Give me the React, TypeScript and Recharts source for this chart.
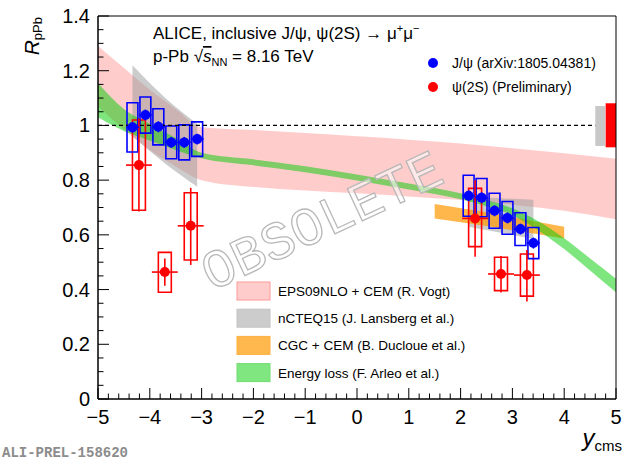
import React from "react";
import {
  ComposedChart,
  Area,
  Scatter,
  ErrorBar,
  XAxis,
  YAxis,
  ReferenceArea,
  ReferenceLine,
} from "recharts";

// model bands
const pinkX = [-5, -4.5, -4, -3.5, -3, -2, -1, 0, 1, 2, 3, 4, 5];
const pinkHi = [1.29, 1.21, 1.13, 1.06, 0.993, 0.983, 0.972, 0.96, 0.948, 0.934, 0.917, 0.898, 0.878];
const pinkLo = [1.07, 0.985, 0.91, 0.85, 0.8, 0.775, 0.762, 0.752, 0.74, 0.727, 0.71, 0.688, 0.657];

const greyBackX = [-4.335, -3.7, -3.085];
const greyBackHi = [1.22, 1.1, 1.005];
const greyBackLo = [0.96, 0.86, 0.776];
const greyFwdX = [2.155, 3.405];
const greyFwdHi = [0.74, 0.728];
const greyFwdLo = [0.63, 0.585];

const orangeX = [1.5, 2.5, 3.5, 4.0];
const orangeHi = [0.713, 0.683, 0.647, 0.63];
const orangeLo = [0.66, 0.632, 0.602, 0.587];

const greenX = [-5, -4.5, -4, -3.5, -3, -2, -1, 0, 1, 2, 2.5, 3, 3.5, 4, 4.5, 5];
const greenHi = [1.155, 1.06, 1.005, 0.954, 0.9, 0.876, 0.851, 0.821, 0.788, 0.752, 0.727, 0.697, 0.65, 0.588, 0.514, 0.44];
const greenLo = [1.03, 0.98, 0.945, 0.91, 0.88, 0.854, 0.829, 0.799, 0.766, 0.73, 0.705, 0.672, 0.616, 0.548, 0.47, 0.39];

// J/psi points
const jpsiX = [-4.335, -4.085, -3.835, -3.585, -3.335, -3.085, 2.155, 2.405, 2.655, 2.905, 3.155, 3.405];
const jpsiR = [0.993, 1.038, 0.995, 0.938, 0.938, 0.95, 0.743, 0.736, 0.688, 0.662, 0.621, 0.57];
const jpsiStat = [0.02, 0.02, 0.02, 0.02, 0.02, 0.02, 0.02, 0.02, 0.02, 0.02, 0.02, 0.02];
const jpsiSys = [0.09, 0.066, 0.066, 0.06, 0.064, 0.063, 0.075, 0.07, 0.064, 0.06, 0.06, 0.057];

// psi(2S) points
const psiX = [-4.21, -3.71, -3.21, 2.28, 2.78, 3.28];
const psiR = [0.855, 0.464, 0.633, 0.66, 0.457, 0.453];
const psiStatLo = [0.17, 0.05, 0.143, 0.14, 0.068, 0.097];
const psiStatHi = [0.17, 0.05, 0.139, 0.14, 0.066, 0.092];
const psiSysLo = [0.165, 0.074, 0.125, 0.103, 0.061, 0.077];
const psiSysHi = [0.165, 0.072, 0.121, 0.11, 0.061, 0.077];

const xMajor = [-5, -4, -3, -2, -1, 0, 1, 2, 3, 4, 5];
const yMajor = [0, 0.2, 0.4, 0.6, 0.8, 1, 1.2, 1.4];

const band = (xs: number[], lo: number[], hi: number[]) =>
  xs.map((x, i) => ({ x, r: [lo[i], hi[i]] }));

const pinkData = band(pinkX, pinkLo, pinkHi);
const greyBackData = band(greyBackX, greyBackLo, greyBackHi);
const greyFwdData = band(greyFwdX, greyFwdLo, greyFwdHi);
const orangeData = band(orangeX, orangeLo, orangeHi);
const greenData = band(greenX, greenLo, greenHi);

const jpsiData = jpsiX.map((x, i) => ({ x, r: jpsiR[i], ex: 0.125, ey: jpsiStat[i] }));
const psiData = psiX.map((x, i) => ({ x, r: psiR[i], ex: 0.25, ey: [psiStatLo[i], psiStatHi[i]] }));

// minor ticks: 0.2 on x, 0.05 on y
const xTicks: number[] = [];
for (let i = 0; i <= 50; i++) xTicks.push(Math.round((-5 + i * 0.2) * 10) / 10);
const yTicks: number[] = [];
for (let i = 0; i <= 28; i++) yTicks.push(Math.round(i * 0.05 * 100) / 100);

const isMajor = (v: number, list: number[]) => list.some((m) => Math.abs(m - v) < 1e-6);
const fmt = (v: number) => (v < 0 ? "\u2212" + Math.abs(v) : String(v));

const FONT = "'Liberation Sans', Arial, Helvetica, sans-serif";

const XTick = (props: any) => {
  const { x, y, payload } = props;
  const major = isMajor(payload.value, xMajor);
  return (
    <g>
      <line x1={x} x2={x} y1={y} y2={y - (major ? 11 : 5.5)} stroke="#000" strokeWidth={1} />
      {major && (
        <text x={x} y={y + 25} textAnchor="middle" fontSize={20} fontFamily={FONT} fill="#000">
          {fmt(payload.value)}
        </text>
      )}
    </g>
  );
};

const YTick = (props: any) => {
  const { x, y, payload } = props;
  const major = isMajor(payload.value, yMajor);
  return (
    <g>
      <line x1={x} x2={x + (major ? 11 : 5.5)} y1={y} y2={y} stroke="#000" strokeWidth={1} />
      {major && (
        <text x={x - 8} y={y + 7} textAnchor="end" fontSize={20} fontFamily={FONT} fill="#000">
          {fmt(payload.value)}
        </text>
      )}
    </g>
  );
};

const dot = (color: string) => (p: any) => <circle cx={p.cx} cy={p.cy} r={5} fill={color} />;

const legendRows = [
  { label: "EPS09NLO + CEM (R. Vogt)", fill: "#ffcccc", stroke: "#ff9999" },
  { label: "nCTEQ15 (J. Lansberg et al.)", fill: "#cccccc", stroke: "#c4c4c4" },
  { label: "CGC + CEM (B. Ducloue et al.)", fill: "#ffb84d", stroke: "#ffb040" },
  { label: "Energy loss (F. Arleo et al.)", fill: "#80e680", stroke: "#70dc70" },
];

export default function App() {
  return (
    <div style={{ position: "absolute", left: 0, top: 0, width: 637, height: 462, background: "#fff" }}>
      <ComposedChart width={637} height={462} margin={{ top: 16, right: 21, bottom: 0, left: 0 }}>
        <XAxis
          type="number"
          dataKey="x"
          domain={[-5, 5]}
          ticks={xTicks}
          interval={0}
          tick={XTick}
          tickLine={false}
          tickSize={0}
          tickMargin={0}
          height={63}
          axisLine={{ stroke: "#000" }}
          allowDataOverflow
        />
        <YAxis
          type="number"
          domain={[0, 1.4]}
          ticks={yTicks}
          interval={0}
          tick={YTick}
          tickLine={false}
          tickSize={0}
          tickMargin={0}
          width={98}
          axisLine={{ stroke: "#000" }}
          allowDataOverflow
        />

        <Area data={pinkData} dataKey="r" type="monotone" fill="#ff9999" fillOpacity={0.5} stroke="none" isAnimationActive={false} />
        <Area data={greyBackData} dataKey="r" type="monotone" fill="#999999" fillOpacity={0.5} stroke="none" isAnimationActive={false} />
        <Area data={greyFwdData} dataKey="r" type="linear" fill="#999999" fillOpacity={0.5} stroke="none" isAnimationActive={false} />
        <Area data={orangeData} dataKey="r" type="linear" fill="#ff9900" fillOpacity={0.7} stroke="none" isAnimationActive={false} />
        <Area data={greenData} dataKey="r" type="monotone" fill="#00cc00" fillOpacity={0.5} stroke="none" isAnimationActive={false} />

        <ReferenceLine
          segment={[{ x: -5, y: 1 }, { x: 4.6, y: 1 }]}
          stroke="#000"
          strokeWidth={1.2}
          strokeDasharray="4 3"
        />

        {psiX.map((x, i) => (
          <ReferenceArea
            key={"ps" + i}
            x1={x - 0.125}
            x2={x + 0.125}
            y1={psiR[i] - psiSysLo[i]}
            y2={psiR[i] + psiSysHi[i]}
            fill="none"
            stroke="#ff0000"
            strokeWidth={1.6}
          />
        ))}
        <Scatter data={psiData} dataKey="r" shape={dot("#ff0000")} isAnimationActive={false}>
          <ErrorBar dataKey="ex" direction="x" width={0} stroke="#ff0000" strokeWidth={1.6} />
          <ErrorBar dataKey="ey" direction="y" width={0} stroke="#ff0000" strokeWidth={1.6} />
        </Scatter>

        {jpsiX.map((x, i) => (
          <ReferenceArea
            key={"js" + i}
            x1={x - 0.105}
            x2={x + 0.105}
            y1={jpsiR[i] - jpsiSys[i]}
            y2={jpsiR[i] + jpsiSys[i]}
            fill="none"
            stroke="#0000ff"
            strokeWidth={1.6}
          />
        ))}
        <Scatter data={jpsiData} dataKey="r" shape={dot("#0000ff")} isAnimationActive={false}>
          <ErrorBar dataKey="ex" direction="x" width={0} stroke="#0000ff" strokeWidth={1.6} />
          <ErrorBar dataKey="ey" direction="y" width={0} stroke="#0000ff" strokeWidth={1.6} />
        </Scatter>

        {/* global uncertainties */}
        <ReferenceArea x1={4.6} x2={4.79} y1={0.925} y2={1.071} fill="#c8c8c8" fillOpacity={1} stroke="none" />
        <ReferenceArea x1={4.8} x2={5} y1={0.92} y2={1.081} fill="#ff0000" fillOpacity={1} stroke="none" />

        {/* frame */}
        <ReferenceArea x1={-5} x2={5} y1={0} y2={1.4} fill="none" stroke="#000" strokeWidth={1} />
      </ComposedChart>

      <svg
        width={637}
        height={462}
        style={{ position: "absolute", left: 0, top: 0, pointerEvents: "none" }}
        fontFamily={FONT}
      >
        {/* watermark */}
        <g transform="translate(322 221) rotate(-25)">
          <text
            x={0}
            y={17}
            textAnchor="middle"
            fontSize={54}
            fontFamily="'Liberation Mono', 'Courier New', monospace"
            fill="#ffffff"
            fillOpacity={0.55}
            stroke="#b8b8b8"
            strokeWidth={1.3}
          >
            OBSOLETE
          </text>
        </g>

        <text x={153} y={39} fontSize={17} fill="#000">
          ALICE, inclusive J/ψ, ψ(2S) → μ<tspan fontSize={11} dy={-7}>+</tspan>
          <tspan dy={7}>μ</tspan>
          <tspan fontSize={11} dy={-7}>−</tspan>
        </text>
        <text x={153} y={62} fontSize={17} fill="#000">
          p-Pb √<tspan fontStyle="italic" textDecoration="overline">s</tspan>
          <tspan fontSize={11} dy={4}>NN</tspan>
          <tspan dy={-4}> = 8.16 TeV</tspan>
        </text>

        <circle cx={433} cy={63} r={5} fill="#0000ff" />
        <text x={452} y={68} fontSize={14} fill="#000">J/ψ (arXiv:1805.04381)</text>
        <circle cx={433} cy={87} r={5} fill="#ff0000" />
        <text x={452} y={92} fontSize={14} fill="#000">ψ(2S) (Preliminary)</text>

        {legendRows.map((row, i) => (
          <g key={row.label}>
            <rect x={237} y={282 + i * 27.2} width={33} height={18} fill={row.fill} stroke={row.stroke} strokeWidth={1} />
            <text x={278} y={296 + i * 27.2} fontSize={13.5} fill="#000">
              {row.label}
            </text>
          </g>
        ))}

        <text transform="translate(39 17) rotate(-90)" textAnchor="end" fill="#000">
          <tspan fontSize={21} fontStyle="italic">R</tspan>
          <tspan fontSize={13} dy={3}>pPb</tspan>
        </text>
        <text x={622} y={446} textAnchor="end" fill="#000">
          <tspan fontSize={24} fontStyle="italic">y</tspan>
          <tspan fontSize={15} dy={5}>cms</tspan>
        </text>

        <text x={2} y={457} fontSize={14} fontWeight="bold" fill="#8c8c8c" fontFamily="'Liberation Mono', 'Courier New', monospace">
          ALI-PREL-158620
        </text>
      </svg>
    </div>
  );
}
